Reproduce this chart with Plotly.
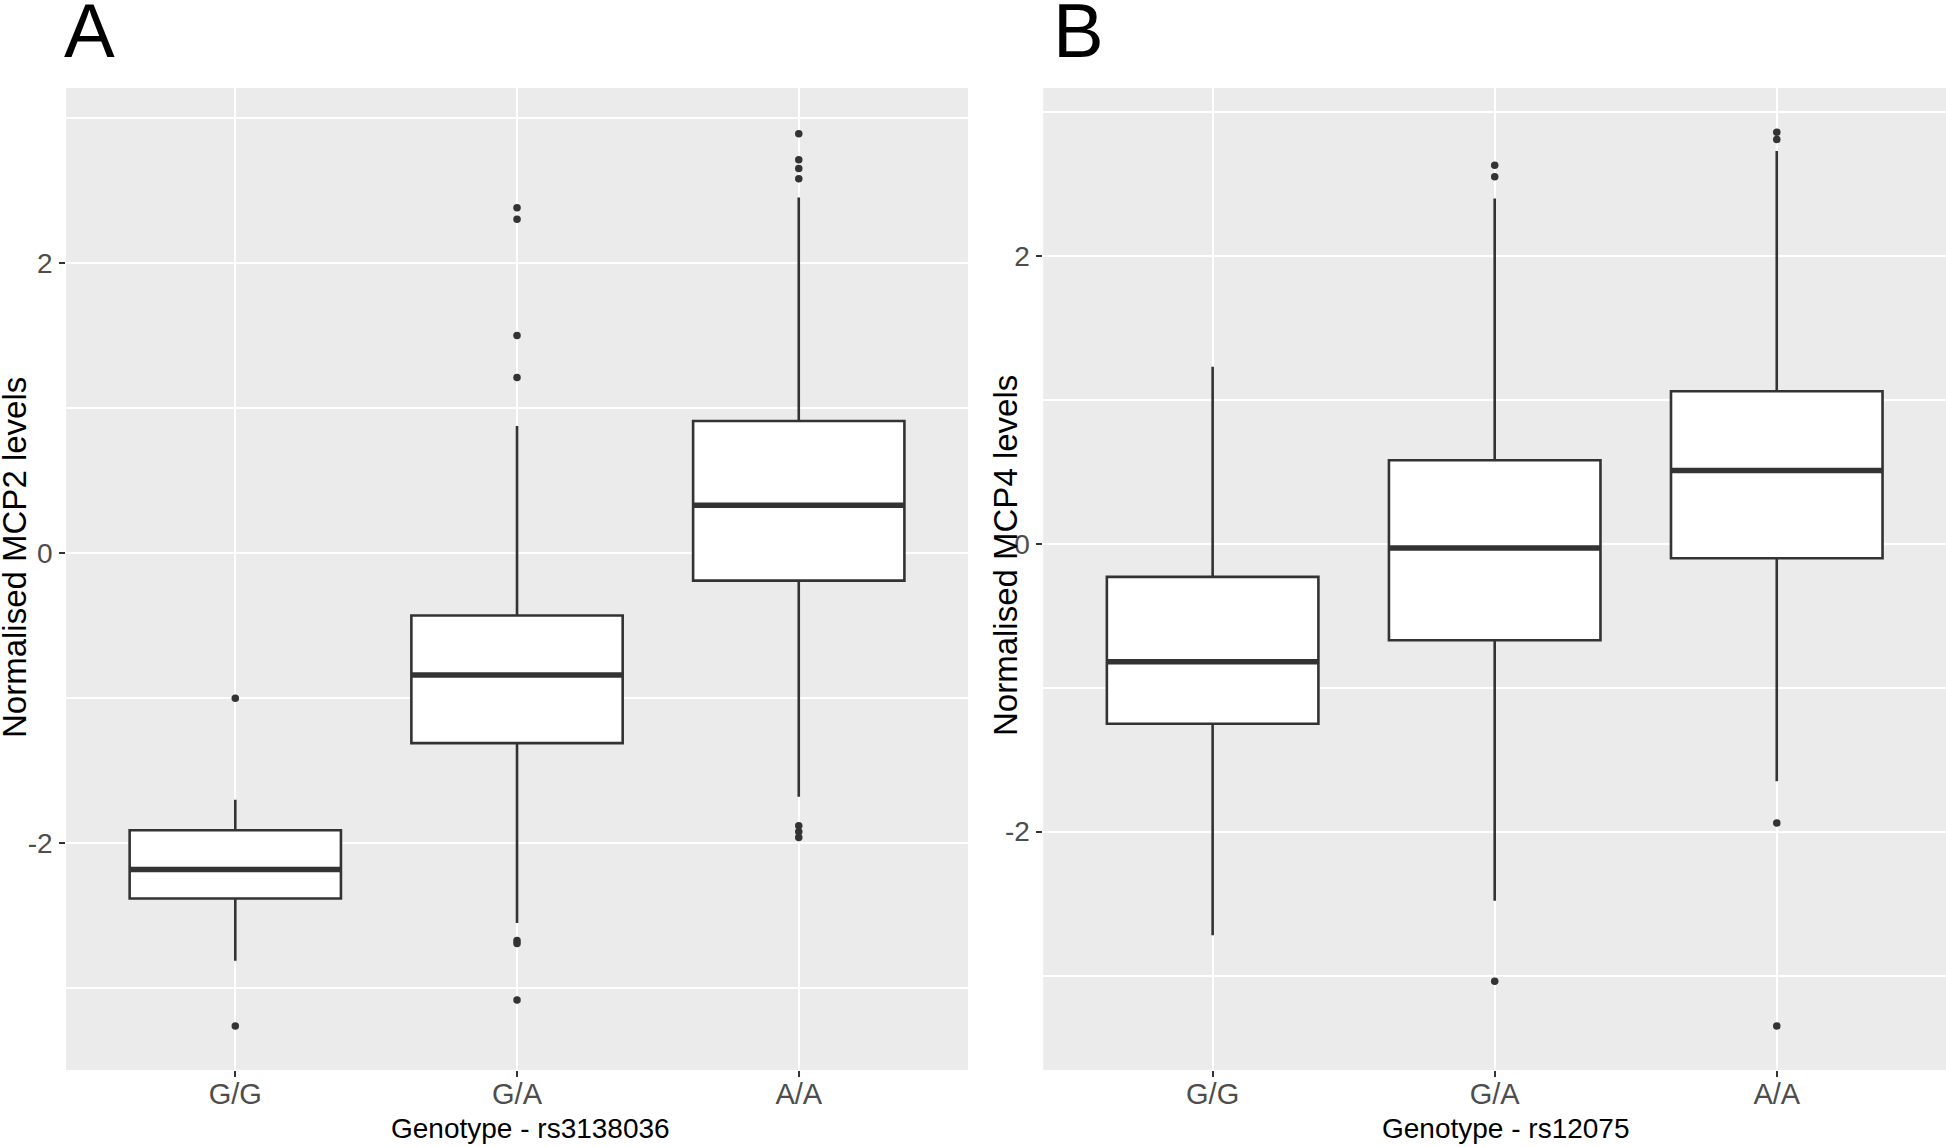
import plotly.graph_objects as go

# ---------------- data ----------------
categories = ["G/G", "G/A", "A/A"]

# Panel A : MCP2 vs rs3138036
a_q1 = [-2.38, -1.31, -0.19]
a_median = [-2.18, -0.84, 0.33]
a_q3 = [-1.91, -0.43, 0.91]
a_lower = [-2.81, -2.55, -1.68]
a_upper = [-1.70, 0.875, 2.45]
a_outliers = {
    "G/G": [-1.00, -3.26],
    "G/A": [2.38, 2.30, 1.50, 1.21, -2.67, -2.69, -3.08],
    "A/A": [2.89, 2.71, 2.65, 2.58, -1.88, -1.92, -1.96],
}

# Panel B : MCP4 vs rs12075
b_q1 = [-1.25, -0.67, -0.10]
b_median = [-0.82, -0.03, 0.51]
b_q3 = [-0.23, 0.58, 1.06]
b_lower = [-2.72, -2.48, -1.65]
b_upper = [1.23, 2.40, 2.73]
b_outliers = {
    "G/G": [],
    "G/A": [2.63, 2.55, -3.04],
    "A/A": [2.86, 2.81, -1.94, -3.35],
}

y_major = [-2, 0, 2]
y_minor = [-3, -1, 1, 3]

# ---------------- style ----------------
W, H = 1946, 1147
DARK = "#333333"
BOXW = 0.75
FONT = "Liberation Sans, Arial, sans-serif"


def px_x(p):
    return p / W


def px_y(p):
    return 1 - p / H


fig = go.Figure()


def add_panel(xa, ya, q1, med, q3, lo, up, outl):
    idx = list(range(len(categories)))
    fig.add_trace(go.Box(
        x=idx, q1=q1, median=med, q3=q3, lowerfence=lo, upperfence=up,
        width=BOXW, whiskerwidth=0, boxpoints=False,
        fillcolor="white", line=dict(color=DARK, width=2.6),
        xaxis=xa, yaxis=ya, showlegend=False, hoverinfo="skip",
    ))
    mx, my = [], []
    for i, m in zip(idx, med):
        mx += [i - BOXW / 2, i + BOXW / 2, None]
        my += [m, m, None]
    fig.add_trace(go.Scatter(
        x=mx, y=my, mode="lines", line=dict(color=DARK, width=5.5),
        xaxis=xa, yaxis=ya, showlegend=False, hoverinfo="skip",
    ))
    ox, oy = [], []
    for i, c in enumerate(categories):
        for v in outl[c]:
            ox.append(i)
            oy.append(v)
    fig.add_trace(go.Scatter(
        x=ox, y=oy, mode="markers",
        marker=dict(color=DARK, size=7.5, line=dict(width=0)),
        xaxis=xa, yaxis=ya, showlegend=False, hoverinfo="skip",
    ))


add_panel("x", "y", a_q1, a_median, a_q3, a_lower, a_upper, a_outliers)
add_panel("x2", "y2", b_q1, b_median, b_q3, b_lower, b_upper, b_outliers)

ydom = [px_y(1069.8), px_y(88)]

xcommon = dict(
    tickmode="array", tickvals=[0, 1, 2], ticktext=categories,
    range=[-0.6, 2.6], showgrid=True, gridcolor="white", gridwidth=2.2,
    zeroline=False, ticks="outside", ticklen=6, tickwidth=2,
    tickcolor=DARK, showline=False,
    tickfont=dict(family=FONT, size=29, color="#4D4D4D"),
    ticklabelstandoff=-8,
)
ycommon = dict(
    tickmode="array", tickvals=y_major, ticktext=[str(v) for v in y_major],
    showgrid=True, gridcolor="white", gridwidth=2.2, zeroline=False,
    ticks="outside", ticklen=6, tickwidth=2, tickcolor=DARK,
    tickfont=dict(family=FONT, size=28, color="#4D4D4D"),
    ticklabelstandoff=1,
    minor=dict(tickvals=y_minor, showgrid=True, gridcolor="white",
               gridwidth=1.6, ticks=""),
    domain=ydom,
)

fig.update_layout(
    width=W, height=H,
    margin=dict(l=0, r=0, t=0, b=0),
    paper_bgcolor="white",
    plot_bgcolor="#EBEBEB",
    xaxis=dict(domain=[px_x(66.25), px_x(967.8)], anchor="y", **xcommon),
    xaxis2=dict(domain=[px_x(1043.4), 1.0], anchor="y2", **xcommon),
    yaxis=dict(range=[-3.561, 3.205], anchor="x", **ycommon),
    yaxis2=dict(range=[-3.655, 3.167], anchor="x2", **ycommon),
    shapes=[
        dict(type="rect", xref="x domain", yref="y domain", x0=0, x1=1, y0=0, y1=1,
             fillcolor="#EBEBEB", line=dict(width=0), layer="below"),
        dict(type="rect", xref="x2 domain", yref="y2 domain", x0=0, x1=1, y0=0, y1=1,
             fillcolor="#EBEBEB", line=dict(width=0), layer="below"),
    ],
)

ann = []
# panel letters
ann.append(dict(text="A", x=px_x(62), y=px_y(31), xref="paper", yref="paper",
                xanchor="left", yanchor="middle", showarrow=False,
                font=dict(family=FONT, size=76, color="black")))
ann.append(dict(text="B", x=px_x(1051), y=px_y(31), xref="paper", yref="paper",
                xanchor="left", yanchor="middle", showarrow=False,
                font=dict(family=FONT, size=76, color="black")))
# x titles
ann.append(dict(text="Genotype - rs3138036", x=px_x(530), y=px_y(1128),
                xref="paper", yref="paper", xanchor="center", yanchor="middle",
                showarrow=False, font=dict(family=FONT, size=28, color="black")))
ann.append(dict(text="Genotype - rs12075", x=px_x(1506), y=px_y(1128),
                xref="paper", yref="paper", xanchor="center", yanchor="middle",
                showarrow=False, font=dict(family=FONT, size=28, color="black")))
# y titles
ann.append(dict(text="Normalised MCP2 levels", x=px_x(14), y=px_y(558),
                xref="paper", yref="paper", xanchor="center", yanchor="middle",
                textangle=-90, showarrow=False,
                font=dict(family=FONT, size=33, color="black")))
ann.append(dict(text="Normalised MCP4 levels", x=px_x(1005), y=px_y(556),
                xref="paper", yref="paper", xanchor="center", yanchor="middle",
                textangle=-90, showarrow=False,
                font=dict(family=FONT, size=33, color="black")))
fig.update_layout(annotations=ann)

fig.write_html("out.html", config={"displayModeBar": False},
               post_script="document.body.style.margin='0px';")
